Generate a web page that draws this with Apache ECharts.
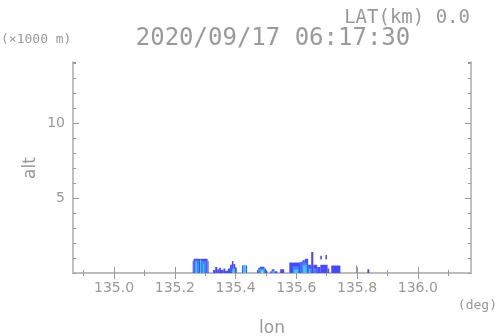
<!DOCTYPE html>
<html lang="en">
<head>
    <meta charset="UTF-8">
    <title>alt-lon section</title>
    <script src="https://cdn.jsdelivr.net/npm/echarts@6/dist/echarts.min.js"></script>
    <style>
        html, body { margin: 0; padding: 0; background: #fff; }
        #chart { width: 498px; height: 336px; }
    </style>
</head>
<body>
<div id="chart"></div>
<script type="text/javascript">
    // axis ranges / ticks
    var lonRange = [134.865, 136.175];
    var altRange = [0, 14.1];
    var lonLabels = [135.0, 135.2, 135.4, 135.6, 135.8, 136.0];
    var lonMinor = [134.9, 135.1, 135.3, 135.5, 135.7, 135.9, 136.1];
    var altMajor = [5, 10];

    // cells: [lon from, lon to, alt bottom, alt top]  (km)
    var blueCells = [
        [135.259, 135.262, 0, 0.8], [135.262, 135.308, 0, 0.95], [135.308, 135.311, 0, 0.8],
        [135.326, 135.333, 0, 0.2], [135.333, 135.340, 0, 0.4], [135.340, 135.346, 0, 0.25],
        [135.346, 135.352, 0, 0.35], [135.352, 135.360, 0, 0.2], [135.360, 135.366, 0, 0.3],
        [135.366, 135.375, 0, 0.15], [135.375, 135.382, 0, 0.3], [135.382, 135.388, 0, 0.55],
        [135.388, 135.393, 0, 0.8], [135.393, 135.399, 0, 0.6], [135.399, 135.404, 0, 0.35],
        [135.421, 135.438, 0, 0.5],
        [135.471, 135.475, 0, 0.2], [135.475, 135.480, 0, 0.35], [135.480, 135.495, 0, 0.42],
        [135.495, 135.500, 0, 0.3], [135.500, 135.505, 0, 0.15],
        [135.514, 135.519, 0, 0.12], [135.519, 135.528, 0, 0.25], [135.528, 135.537, 0, 0.12],
        [135.547, 135.560, 0, 0.25],
        [135.577, 135.613, 0, 0.7],
        [135.613, 135.620, 0, 0.75], [135.620, 135.628, 0, 0.85], [135.628, 135.639, 0, 0.95],
        [135.639, 135.649, 0, 0.55], [135.649, 135.656, 0, 1.4], [135.656, 135.669, 0, 0.55],
        [135.669, 135.679, 0, 0.4], [135.679, 135.688, 0, 0.55], [135.679, 135.684, 0.9, 1.15],
        [135.688, 135.703, 0, 0.55], [135.696, 135.701, 0.9, 1.2], [135.703, 135.708, 0, 0.3],
        [135.715, 135.745, 0, 0.5],
        [135.834, 135.840, 0, 0.25]
    ];
    var midCells = [
        [135.265, 135.280, 0, 0.85], [135.288, 135.304, 0, 0.8], [135.478, 135.497, 0, 0.3],
        [135.588, 135.608, 0, 0.45], [135.617, 135.636, 0, 0.7], [135.658, 135.666, 0, 0.3]
    ];
    var cyanCells = [
        [135.268, 135.273, 0, 0.75], [135.283, 135.287, 0, 0.9], [135.293, 135.296, 0, 0.6],
        [135.389, 135.398, 0, 0.3], [135.424, 135.435, 0, 0.5], [135.481, 135.494, 0, 0.22],
        [135.521, 135.527, 0, 0.15], [135.592, 135.606, 0, 0.25], [135.622, 135.634, 0, 0.5],
        [135.641, 135.647, 0, 0.3]
    ];
    var greenCells = [[135.484, 135.492, 0, 0.15], [135.391, 135.395, 0, 0.12]];
    var yellowCells = [[135.486, 135.489, 0, 0.1]];
    var greyCells = [[135.797, 135.800, 0, 0.5]];

    var chart = echarts.init(document.getElementById('chart'));
    var frame = '#bdbdbd';
    var txt = '#999999';

    function renderCell(params, api) {
        var p0 = api.coord([api.value(0), api.value(3)]);
        var p1 = api.coord([api.value(1), api.value(2)]);
        return {
            type: 'rect',
            shape: { x: p0[0], y: p0[1], width: Math.max(p1[0] - p0[0], 1), height: p1[1] - p0[1] },
            style: { fill: api.visual('color') }
        };
    }

    function cellSeries(cells, color) {
        return {
            type: 'custom', renderItem: renderCell, data: cells, silent: true,
            itemStyle: { color: color }, encode: { x: [0, 1], y: [2, 3] }
        };
    }

    function xAx(pos, ticks, len, labels) {
        return {
            type: 'value', position: pos, min: lonRange[0], max: lonRange[1],
            axisLine: { show: true, lineStyle: { color: frame, width: 1.5 } },
            axisTick: { show: true, inside: true, length: len, customValues: ticks, lineStyle: { color: '#999' } },
            axisLabel: labels ? { show: true, customValues: lonLabels, margin: 8, color: txt, fontSize: 14,
                fontFamily: 'DejaVu Sans', formatter: function (v) { return v.toFixed(1); } } : { show: false },
            splitLine: { show: false }
        };
    }

    function yAx(pos, len, major, labels) {
        var ax = {
            type: 'value', position: pos, min: altRange[0], max: altRange[1], interval: 1,
            axisLine: { show: true, lineStyle: { color: frame, width: 1.5 } },
            axisTick: { show: true, inside: true, length: len, lineStyle: { color: '#999' } },
            axisLabel: { show: false },
            splitLine: { show: false }
        };
        if (major) ax.axisTick.customValues = altMajor;
        if (labels) ax.axisLabel = { show: true, margin: 8, color: txt, fontSize: 14, fontFamily: 'DejaVu Sans',
            formatter: function (v) { return (v > 0 && v % 5 === 0) ? String(v) : ''; } };
        return ax;
    }

    var option = {
        animation: false,
        grid: { left: 73, right: 27, top: 62, bottom: 63 },
        xAxis: [
            xAx('bottom', lonLabels, 6, true),
            xAx('bottom', lonMinor, 3, false),
            xAx('top', lonLabels, 6, false),
            xAx('top', lonMinor, 3, false)
        ],
        yAxis: [
            yAx('left', 3, false, true),
            yAx('left', 6, true, false),
            yAx('right', 3, false, false),
            yAx('right', 6, true, false)
        ],
        series: [
            cellSeries(blueCells, '#4848ff'),
            cellSeries(midCells, '#3f86f7'),
            cellSeries(cyanCells, '#3fc6f2'),
            cellSeries(greenCells, '#55dd8a'),
            cellSeries(yellowCells, '#d6e84a'),
            cellSeries(greyCells, '#8a8a8a')
        ],
        graphic: [
            { type: 'text', x: 470, y: 18, style: { text: 'LAT(km) 0.0', fill: txt, font: '19px "DejaVu Sans Mono"', align: 'right', verticalAlign: 'middle' } },
            { type: 'text', x: 273, y: 39, style: { text: '2020/09/17 06:17:30', fill: '#9a9a9a', font: '24px "DejaVu Sans Mono"', align: 'center', verticalAlign: 'middle' } },
            { type: 'text', x: 1, y: 40, style: { text: '(×1000 m)', fill: txt, font: '13px "DejaVu Sans Mono"', align: 'left', verticalAlign: 'middle' } },
            { type: 'text', x: 497, y: 306, style: { text: '(deg)', fill: txt, font: '13px "DejaVu Sans Mono"', align: 'right', verticalAlign: 'middle' } },
            { type: 'text', x: 272, y: 329, style: { text: 'lon', fill: txt, font: '17px "DejaVu Sans"', align: 'center', verticalAlign: 'middle' } },
            { type: 'text', x: 31, y: 168, rotation: Math.PI / 2, style: { text: 'alt', fill: txt, font: '17px "DejaVu Sans"', align: 'center', verticalAlign: 'middle' } }
        ]
    };
    chart.setOption(option);
</script>
</body>
</html>
